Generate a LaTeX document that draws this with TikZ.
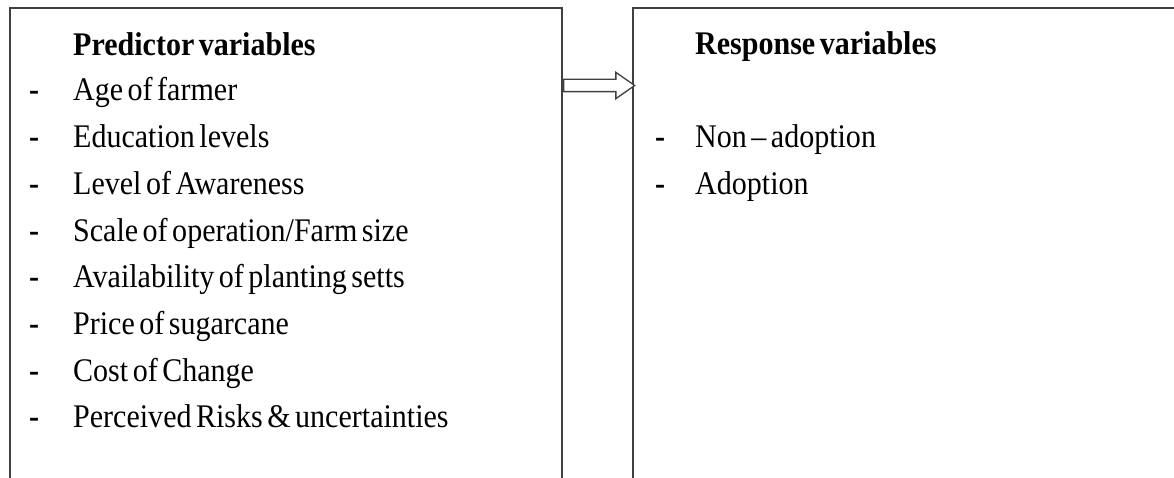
\documentclass[tikz,border=0pt]{standalone}
\usepackage{fontspec}
\setmainfont{Liberation Serif}[FakeStretch=0.91,WordSpace=0.6]
\usetikzlibrary{shapes.arrows}
\definecolor{boxgray}{HTML}{404040}
\tikzset{
  panel/.style={draw=boxgray, line width=2pt, rectangle, inner sep=0pt, anchor=north west},
  item/.style={anchor=base west, inner sep=0pt, text=black, font=\fontsize{33}{40}\selectfont},
  head/.style={item, font=\fontsize{33}{40}\selectfont\bfseries},
  dashmark/.style={item, font=\fontsize{33}{40}\selectfont\bfseries},
  openarrow/.style={single arrow, draw=boxgray, fill=white, line width=1.3pt,
    minimum height=71pt, minimum width=25pt, single arrow head extend=7pt,
    single arrow tip angle=70, inner sep=0pt, inner ysep=5.5pt, anchor=tail}
}
\begin{document}
\begin{tikzpicture}[x=1pt,y=-1pt]
\useasboundingbox (0,0) rectangle (1174,478);
\clip (0,0) rectangle (1174,478);
\coordinate (arrowy) at (0,85.5);
% boxes
\node[panel, minimum width=552pt, minimum height=530pt] (lbox) at (9,7) {};
\node[panel, minimum width=600pt, minimum height=530pt] (rbox) at (632,7) {};
% arrow
\node[openarrow] (arr) at (lbox.east |- arrowy) {};
% left box text
\node[head] (lhead) at (73,56) {Predictor variables};
\node[dashmark] (d1) at (29,101) {-};   \node[item] (t1) at (73,101) {Age of farmer};
\node[dashmark] (d2) at (29,147.7) {-}; \node[item] (t2) at (73,147.7) {Education levels};
\node[dashmark] (d3) at (29,194.4) {-}; \node[item] (t3) at (73,194.4) {Level of Awareness};
\node[dashmark] (d4) at (29,241.1) {-}; \node[item] (t4) at (73,241.1) {Scale of operation/Farm size};
\node[dashmark] (d5) at (29,287.8) {-}; \node[item] (t5) at (73,287.8) {Availability of planting setts};
\node[dashmark] (d6) at (29,334.5) {-}; \node[item] (t6) at (73,334.5) {Price of sugarcane};
\node[dashmark] (d7) at (29,381.2) {-}; \node[item] (t7) at (73,381.2) {Cost of Change};
\node[dashmark] (d8) at (29,427.9) {-}; \node[item] (t8) at (73,427.9) {Perceived Risks \& uncertainties};
% right box text
\node[head] (rhead) at (695,55) {Response variables};
\node[dashmark] (r1d) at (655,148) {-}; \node[item] (r1) at (695,148) {Non – adoption};
\node[dashmark] (r2d) at (655,194.7) {-}; \node[item] (r2) at (695,194.7) {Adoption};
\end{tikzpicture}
\end{document}
